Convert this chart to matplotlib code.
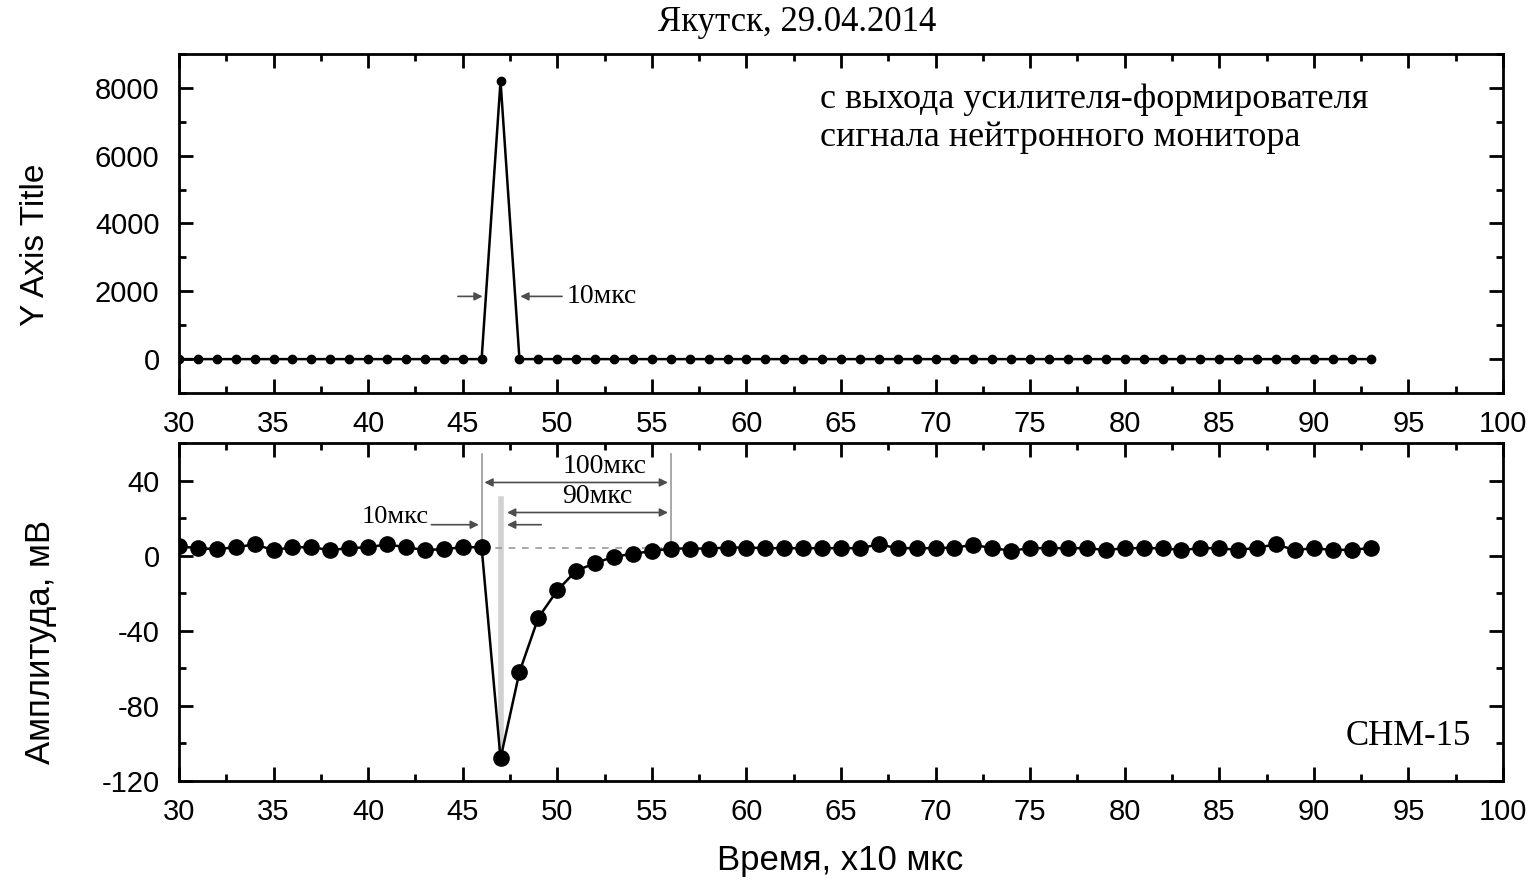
import matplotlib
matplotlib.use("Agg")
import matplotlib.pyplot as plt
from matplotlib.ticker import MultipleLocator
import numpy as np

# ---- data ----
x_time = list(range(30, 94))
top_signal = [0] * 17 + [8200] + [0] * 46
bottom_signal = [5, 4, 3.5, 4.5, 6, 3, 4.5, 4.5, 3, 4, 4.5, 6, 4.5, 3, 3.5, 4.5, 4.5,
                 -108, -62, -33, -18.5, -8, -4, -0.5, 1, 2.5, 3.8, 3.8, 3.8, 4.3,
                 4.3, 4, 4, 4, 4, 4, 4, 6, 4, 4, 4, 4.3, 5.8, 4, 2.7, 4, 4, 4, 4, 3,
                 4, 4, 4, 3, 4, 4, 3, 4.3, 6, 3, 4, 3, 3.2, 4]
x_ticks = [30, 35, 40, 45, 50, 55, 60, 65, 70, 75, 80, 85, 90, 95, 100]
top_yticks = [0, 2000, 4000, 6000, 8000]
bottom_yticks = [-120, -80, -40, 0, 40]

title = "Якутск, 29.04.2014"
top_note = "с выхода усилителя-формирователя\nсигнала нейтронного монитора"
bottom_note = "СНМ-15"

plt.rcParams['font.family'] = ['Liberation Sans', 'DejaVu Sans']
plt.rcParams['axes.unicode_minus'] = False
SERIF = ['Liberation Serif', 'DejaVu Serif']

fig = plt.figure(figsize=(15.39, 8.82), dpi=100)
ax1 = fig.add_axes([0.1163, 0.5544, 0.8603, 0.3844])
ax2 = fig.add_axes([0.1163, 0.1145, 0.8603, 0.3832])

for ax in (ax1, ax2):
    ax.set_xlim(30, 100)
    ax.set_xticks(x_ticks)
    ax.xaxis.set_minor_locator(MultipleLocator(2.5))
    ax.tick_params(which='both', direction='in', top=True, right=True,
                   labelsize=21, width=2)
    ax.tick_params(axis='x', which='major', pad=12)
    ax.tick_params(axis='y', which='major', pad=14)
    ax.tick_params(which='major', length=10)
    ax.tick_params(which='minor', length=5)
    for s in ax.spines.values():
        s.set_linewidth(2)

# top panel
ax1.plot(x_time, top_signal, color='black', lw=1.8, marker='o', ms=6)
ax1.set_ylim(-1000, 9000)
ax1.set_yticks(top_yticks)
ax1.yaxis.set_minor_locator(MultipleLocator(1000))
ax1.text(63.9, 7100, top_note, family=SERIF, fontsize=26, va='center',
         ha='left', linespacing=1.2)
arr = dict(arrowstyle='-|>', color='0.3', lw=1.2, mutation_scale=12)
ax1.annotate('', xy=(46.2, 1850), xytext=(44.6, 1850), arrowprops=arr)
ax1.annotate('', xy=(47.9, 1850), xytext=(50.4, 1850), arrowprops=arr)
ax1.text(50.5, 1850, "10мкс", family=SERIF, fontsize=20, va='center', ha='left')

# bottom panel
ax2.plot(x_time, bottom_signal, color='black', lw=1.8, marker='o', ms=11)
ax2.set_ylim(-120, 60)
ax2.set_yticks(bottom_yticks)
ax2.yaxis.set_minor_locator(MultipleLocator(20))

ax2.plot([46, 46], [54, 4], color='0.6', lw=1.2, zorder=1)
ax2.plot([56, 56], [54, 4], color='0.6', lw=1.2, zorder=1)
ax2.plot([47, 47], [30, -108], color='0.82', lw=4, zorder=1)
ax2.plot([46, 56], [4, 4], color='0.6', lw=1.2, ls=(0, (4, 4)), zorder=1)

dbl = dict(arrowstyle='<|-|>', color='0.3', lw=1.2, mutation_scale=12)
ax2.annotate('', xy=(46, 39), xytext=(56, 39), arrowprops=dbl)
ax2.annotate('', xy=(47.2, 23), xytext=(56, 23), arrowprops=dbl)
ax2.annotate('', xy=(47.2, 16.5), xytext=(49.3, 16.5), arrowprops=arr)
ax2.annotate('', xy=(46, 16.5), xytext=(43.2, 16.5), arrowprops=arr)
ax2.text(52.5, 47.5, "100мкс", family=SERIF, fontsize=20, va='center', ha='center')
ax2.text(52.1, 31.5, "90мкс", family=SERIF, fontsize=20, va='center', ha='center')
ax2.text(43.2, 20.5, "10мкс", family=SERIF, fontsize=19, va='center', ha='right')
ax2.text(98.3, -96.5, bottom_note, family=SERIF, fontsize=25, va='center', ha='right')

fig.text(0.518, 0.974, title, family=SERIF, fontsize=25, ha='center', va='center')
fig.text(0.023, 0.722, "Y Axis Title", fontsize=24, rotation=90, ha='center', va='center')
fig.text(0.026, 0.272, "Амплитуда, мВ", fontsize=25, rotation=90, ha='center', va='center')
fig.text(0.546, 0.024, "Время, х10 мкс", fontsize=25, ha='center', va='center')

fig.savefig("out.png", dpi=100)
